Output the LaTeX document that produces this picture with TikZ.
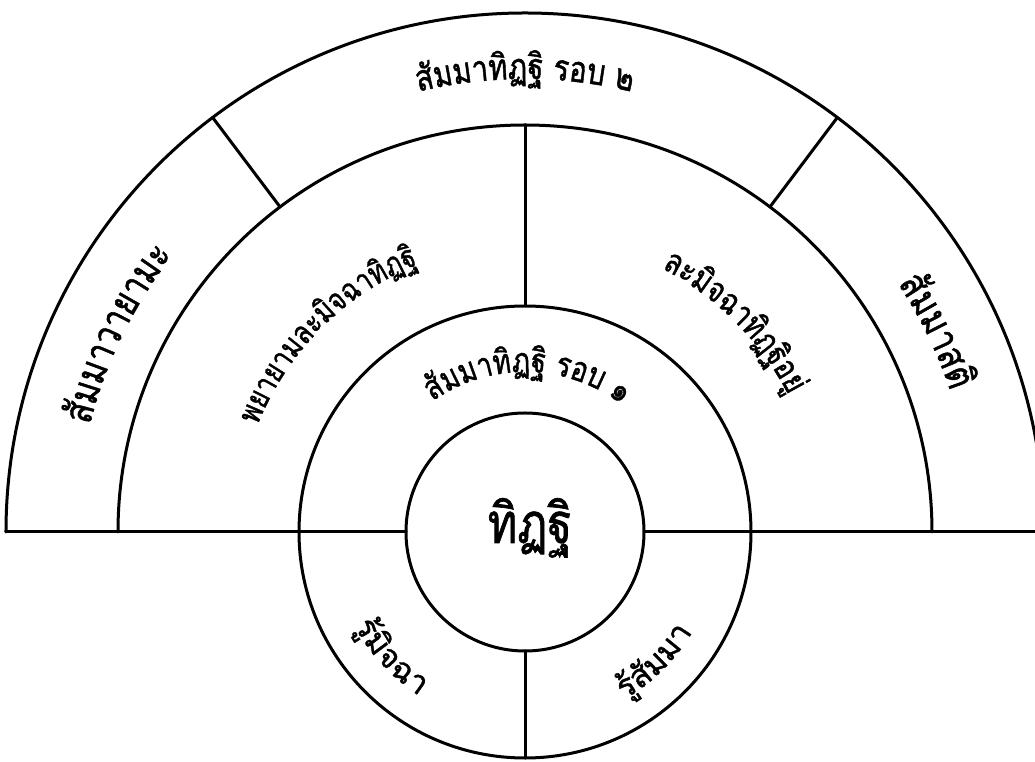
\documentclass[tikz,border=0pt]{standalone}
\usepackage{fontspec}
\newfontfamily\thaifont[Script=Thai, FakeStretch=0.8, FakeBold=1.2]{Loma}
\newfontfamily\thaiwide[Script=Thai, FakeBold=1.2]{Loma}
\newdimen\arctotal
% measure clusters (outside the picture): #1 name, #2 font, #3 clusters
\newcommand\measure[3]{%
  \global\arctotal=0pt
  \foreach \c [count=\i] in {#3}{\setbox0=\hbox{#2\c}\global\advance\arctotal by \wd0
    \expandafter\xdef\csname w@#1@\i\endcsname{\the\wd0}}%
  \expandafter\xdef\csname wt@#1\endcsname{\the\arctotal}%
}
% #1 name, #2 radius (pt), #3 centre angle, #4 sign (+1 top outward / -1 top inward), #5 font, #6 clusters
\newcommand\arctext[6]{%
  \edef\tmpt{\csname wt@#1\endcsname}%
  \pgfmathsetmacro\arccur{#3 + (#4)*(\tmpt/2)/(#2)*180/pi}%
  \global\let\arccur\arccur
  \foreach \c [count=\i] in {#6}{%
    \edef\tmpw{\csname w@#1@\i\endcsname}%
    \pgfmathsetmacro\cmid{\arccur - (#4)*(\tmpw/2)/(#2)*180/pi}%
    \node[inner sep=0pt, outer sep=0pt, anchor=base, rotate=\cmid-(#4)*90] (#1-\i) at (\cmid:#2pt) {#5\c};
    \pgfmathsetmacro\cnext{\arccur - (#4)*(\tmpw)/(#2)*180/pi}%
    \global\let\arccur\cnext
  }%
}
\newcommand\ftop{\thaifont\fontsize{36}{44}\selectfont}
\newcommand\fouter{\thaifont\fontsize{40}{48}\selectfont}
\newcommand\flm{\thaifont\fontsize{32}{40}\selectfont}
\newcommand\frm{\thaifont\fontsize{34}{40}\selectfont}
\newcommand\finner{\thaifont\fontsize{34}{40}\selectfont}
\newcommand\fbottom{\thaiwide\fontsize{32}{38}\selectfont}
\newcommand\fcore{\thaifont\fontsize{56}{64}\selectfont}
\begin{document}
\measure{top}{\ftop}{สั,ม,ม,า,ทิ,ฏ,ฐิ,~,ร,อ,บ,~,๒}%
\measure{lo}{\fouter}{สั,ม,ม,า,ว,า,ย,า,ม,ะ}%
\measure{ro}{\fouter}{สั,ม,ม,า,ส,ติ}%
\measure{lm}{\flm}{พ,ย,า,ย,า,ม,ล,ะ,มิ,จ,ฉ,า,ทิ,ฏ,ฐิ}%
\measure{rm}{\frm}{ล,ะ,มิ,จ,ฉ,า,ทิ,ฏ,ฐิ,อ,ยู่}%
\measure{in}{\finner}{สั,ม,ม,า,ทิ,ฏ,ฐิ,~,ร,อ,บ,~,๑}%
\measure{bl}{\fbottom}{รู้,มิ,จ,ฉ,า}%
\measure{br}{\fbottom}{รู้,สั,ม,ม,า}%
\begin{tikzpicture}[x=1pt,y=1pt,
  ln/.style={line width=3pt, line cap=round},
  ring/.style={circle, draw, line width=3pt, inner sep=0pt, outer sep=0pt}]
\useasboundingbox (-525,-230) rectangle (510,532);
\clip (-525,-230) rectangle (510,532);
\fill[white] (-525,-230) rectangle (510,532);
% rings
\node[ring, minimum size=238pt] (c1) at (0,0) {};
\node[ring, minimum size=452pt] (c2) at (0,0) {};
\draw[ln] (0:407pt) arc[start angle=0, end angle=180, radius=407pt];
\draw[ln] (0:519pt) arc[start angle=0, end angle=180, radius=519pt];
\coordinate (a3) at (90:407pt);
\coordinate (l3) at (180:519pt);
\coordinate (r3) at (0:519pt);
\coordinate (s1a) at (127:407pt); \coordinate (s1b) at (127:519pt);
\coordinate (s2a) at (53:407pt);  \coordinate (s2b) at (53:519pt);
\draw[ln] (l3) -- (c1.west);
\draw[ln] (c1.east) -- (r3);
\draw[ln] (c2.north) -- (a3);
\draw[ln] (c1.south) -- (c2.south);
\draw[ln] (s1a) -- (s1b);
\draw[ln] (s2a) -- (s2b);
% texts
\node[inner sep=0pt, anchor=base, font=\fcore] (core) at (5,-11) {ทิฏฐิ};
\arctext{top}{453}{90}{1}{\ftop}{สั,ม,ม,า,ทิ,ฏ,ฐิ,~,ร,อ,บ,~,๒}
\arctext{lo}{448}{154}{1}{\fouter}{สั,ม,ม,า,ว,า,ย,า,ม,ะ}
\arctext{ro}{448}{26}{1}{\fouter}{สั,ม,ม,า,ส,ติ}
\arctext{lm}{288}{135}{1}{\flm}{พ,ย,า,ย,า,ม,ล,ะ,มิ,จ,ฉ,า,ทิ,ฏ,ฐิ}
\arctext{rm}{297}{45}{1}{\frm}{ล,ะ,มิ,จ,ฉ,า,ทิ,ฏ,ฐิ,อ,ยู่}
\arctext{in}{160}{89}{1}{\finner}{สั,ม,ม,า,ทิ,ฏ,ฐิ,~,ร,อ,บ,~,๑}
\arctext{bl}{195}{223}{-1}{\fbottom}{รู้,มิ,จ,ฉ,า}
\arctext{br}{195}{315}{-1}{\fbottom}{รู้,สั,ม,ม,า}
\end{tikzpicture}
\end{document}
